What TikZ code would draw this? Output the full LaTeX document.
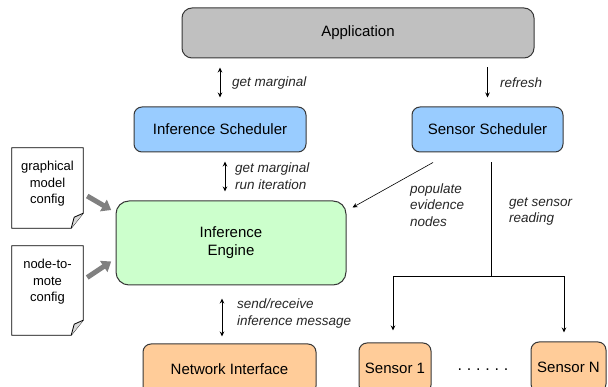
\documentclass[tikz,border=0pt]{standalone}
\usepackage{fontspec}
\setmainfont{Liberation Sans}
\usepackage{tikz}
\usetikzlibrary{arrows.meta}

\definecolor{appgray}{RGB}{192,192,192}
\definecolor{schedblue}{RGB}{153,204,255}
\definecolor{enginegreen}{RGB}{204,255,204}
\definecolor{netorange}{RGB}{255,204,153}
\definecolor{bordergray}{RGB}{55,55,55}
\definecolor{arrowgray}{RGB}{128,128,128}

\tikzset{
  box/.style={draw=bordergray, line width=1pt, rounded corners=8pt, align=center, inner sep=0pt,
    font=\fontsize{15}{18}\selectfont},
  lbl/.style={anchor=west, align=left, inner sep=0pt, text=black!85,
    font=\fontsize{13.5}{16.5}\selectfont\itshape},
  conn/.style={line width=1pt, shorten <=9pt, shorten >=9pt},
  docpage/.style={minimum width=71pt, inner sep=0pt},
  doctext/.style={align=center, inner sep=0pt, font=\fontsize{13}{16.5}\selectfont},
  docline/.style={draw=black, line width=0.8pt},
  docarrow/.style={draw=arrowgray, line width=5pt, -{Triangle[length=9pt,width=13pt]}}
}

\begin{document}
\begin{tikzpicture}[x=1pt, y=-1pt, >={Stealth[length=5pt,width=4.5pt]}]
 \clip (0,0) rectangle (608,387);

    % Boxes
    \node[box, fill=appgray, minimum width=352pt, minimum height=50pt, rounded corners=10pt] (app) at (358,33) {Application};
    \node[box, fill=schedblue, minimum width=172pt, minimum height=45pt] (infsched) at (220,129.5) {Inference Scheduler};
    \node[box, fill=schedblue, minimum width=151pt, minimum height=45pt] (sensched) at (487.5,129.5) {Sensor Scheduler};
    \node[box, fill=enginegreen, minimum width=230pt, minimum height=84pt, rounded corners=13pt] (engine) at (231,243) {Inference\\Engine};
    \node[box, fill=netorange, minimum width=173pt, minimum height=50pt] (netif) at (229.5,369) {Network Interface};
    \node[box, fill=netorange, minimum width=72pt, minimum height=50pt] (sensor1) at (395,368) {Sensor 1};
    \node[box, fill=netorange, minimum width=75pt, minimum height=50pt] (sensorN) at (568.5,367) {Sensor N};
    \node[inner sep=0pt, font=\fontsize{16}{18}\selectfont] (dots) at (483,370) {\addfontfeature{LetterSpace=30}......};

    % Config documents
    \node[docpage, minimum height=80pt] (gmdoc) at (47.5,188) {};
    \node[docpage, minimum height=89pt] (ntmdoc) at (47.5,290.5) {};
    \node[doctext] (gmtext) at (47.5,184) {graphical\\model\\config};
    \node[doctext] (ntmtext) at (47.5,282) {node-to-\\mote\\config};
    \foreach \d in {gmdoc,ntmdoc}{
      \draw[docline] (\d.north west) -- (\d.north east) -- ([yshift=15pt]\d.south east)
        -- ([xshift=-12pt]\d.south east) -- (\d.south west) -- cycle;
      \draw[docline, fill=black!15] ([yshift=15pt]\d.south east) -- ([xshift=-9pt,yshift=11pt]\d.south east)
        -- ([xshift=-12pt]\d.south east);
    }
    \draw[docarrow] (gmdoc.east) ++(4,8) -- ++(24,14);
    \draw[docarrow] (ntmdoc.east) ++(4,-13) -- ++(24,-16);

    % Arrows
    \draw[conn, <->] (app.south -| infsched.north) -- (infsched.north);
    \draw[conn, ->] (app.south -| sensched.north) -- (sensched.north);
    \draw[conn, <->] ([xshift=5pt]infsched.south) -- ([xshift=5pt]infsched.south |- engine.north);
    \draw[conn, <->, shorten <=13pt, shorten >=7pt] ([xshift=-9pt]engine.south) -- ([xshift=-9pt]engine.south |- netif.north);
    \draw[->, line width=0.6pt] ([xshift=-54.5pt,yshift=-10pt]sensched.south) -- ([xshift=6pt,yshift=-7pt]engine.north east);

    % Sensor tree
    \coordinate (fork) at (491,277);
    \draw[line width=1pt, shorten <=10pt] (sensched.south -| fork) -- (fork);
    \draw[->, line width=1pt, shorten >=12pt] (fork) -| ([xshift=-2pt]sensor1.north);
    \draw[->, line width=1pt, shorten >=9pt] (fork) -| ([xshift=-4.5pt]sensorN.north);

    % Labels
    \node[lbl] (lgetmarg) at (232,83) {get marginal};
    \node[lbl] (lrefresh) at (500,83) {refresh};
    \node[lbl] (lrunit) at (235,176) {get marginal\\run iteration};
    \node[lbl] (lsendrecv) at (237,313.5) {send/receive\\inference message};
    \node[lbl] (lpopulate) at (410,205) {populate\\evidence\\nodes};
    \node[lbl] (lreading) at (509,211.5) {get sensor\\reading};
\end{tikzpicture}
\end{document}
